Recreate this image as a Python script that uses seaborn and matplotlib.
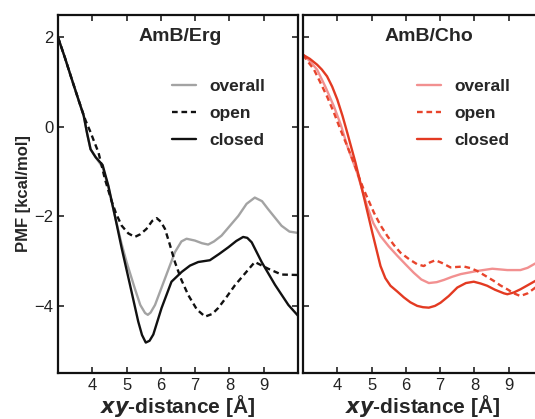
import numpy as np
import pandas as pd
import matplotlib
matplotlib.use("Agg")
import matplotlib.pyplot as plt
import seaborn as sns

# --- PMF curves (x in Angstrom, PMF in kcal/mol) ---

# AmB/Erg
erg_closed_x = [3.0, 3.2, 3.4, 3.6, 3.75, 3.85, 3.95, 4.1, 4.3, 4.47, 4.66, 4.86, 5.10, 5.34,
                5.45, 5.56, 5.67, 5.78, 6.02, 6.31, 6.61, 6.85, 7.09, 7.43, 7.70, 7.97, 8.20,
                8.40, 8.52, 8.65, 8.94, 9.33, 9.72, 10.0]
erg_closed_y = [2.0, 1.55, 1.07, 0.6, 0.25, -0.15, -0.5, -0.68, -0.85, -1.32, -1.99, -2.72, -3.53, -4.35,
                -4.65, -4.82, -4.78, -4.64, -4.05, -3.46, -3.24, -3.1, -3.02, -2.98, -2.84, -2.69, -2.55,
                -2.46, -2.48, -2.58, -3.02, -3.53, -3.98, -4.22]

erg_open_x = [3.0, 3.2, 3.4, 3.6, 3.8, 3.95, 4.05, 4.18, 4.37, 4.56, 4.7, 4.86, 5.05, 5.24, 5.4,
              5.58, 5.75, 5.88, 6.0, 6.12, 6.25, 6.41, 6.6, 6.8, 7.05, 7.29, 7.5, 7.67, 7.9,
              8.16, 8.45, 8.74, 8.95, 9.13, 9.52, 10.0]
erg_open_y = [2.0, 1.55, 1.07, 0.6, 0.15, -0.12, -0.32, -0.57, -1.17, -1.65, -1.95, -2.21, -2.38, -2.46, -2.4,
              -2.28, -2.1, -2.04, -2.12, -2.28, -2.6, -3.02, -3.42, -3.76, -4.08, -4.24, -4.18, -4.05, -3.82,
              -3.54, -3.28, -3.02, -3.1, -3.17, -3.30, -3.31]

erg_overall_x = [3.0, 3.2, 3.4, 3.6, 3.75, 3.85, 3.95, 4.1, 4.3, 4.47, 4.66, 4.85, 5.0, 5.24, 5.4,
                 5.54, 5.62, 5.7, 5.83, 6.12, 6.41, 6.6, 6.75, 6.99, 7.2, 7.38, 7.55, 7.77, 8.26,
                 8.5, 8.74, 8.95, 9.13, 9.52, 9.75, 10.0]
erg_overall_y = [2.0, 1.55, 1.07, 0.6, 0.25, -0.15, -0.5, -0.68, -0.9, -1.35, -1.99, -2.6, -3.02, -3.61, -3.98,
                 -4.16, -4.2, -4.15, -3.98, -3.39, -2.80, -2.56, -2.50, -2.54, -2.6, -2.63, -2.56, -2.43, -1.99,
                 -1.72, -1.58, -1.66, -1.84, -2.21, -2.34, -2.37]

# AmB/Cho
cho_closed_x = [3.0, 3.2, 3.41, 3.55, 3.70, 3.85, 4.0, 4.15, 4.29, 4.53, 4.77, 5.02, 5.26, 5.4, 5.55,
                5.75, 5.94, 6.13, 6.33, 6.5, 6.67, 6.85, 7.01, 7.25, 7.50, 7.75, 7.98, 8.18, 8.37,
                8.6, 8.86, 8.96, 9.15, 9.34, 9.55, 9.78, 10.0]
cho_closed_y = [1.61, 1.52, 1.39, 1.28, 1.13, 0.9, 0.61, 0.25, -0.13, -0.80, -1.55, -2.36, -3.11, -3.38, -3.55,
                -3.68, -3.81, -3.92, -4.0, -4.03, -4.04, -4.0, -3.93, -3.78, -3.59, -3.49, -3.46, -3.5, -3.55,
                -3.64, -3.72, -3.74, -3.7, -3.63, -3.54, -3.44, -3.36]

cho_open_x = [3.0, 3.15, 3.32, 3.50, 3.70, 3.9, 4.09, 4.3, 4.48, 4.62, 4.77, 5.07, 5.26, 5.46, 5.65,
              5.84, 6.1, 6.33, 6.52, 6.7, 6.86, 7.05, 7.30, 7.50, 7.69, 7.9, 8.08, 8.3, 8.56,
              8.75, 8.96, 9.15, 9.34, 9.55, 9.78, 10.0]
cho_open_y = [1.61, 1.45, 1.28, 1.0, 0.68, 0.32, -0.06, -0.45, -0.80, -1.1, -1.40, -1.92, -2.2, -2.44, -2.64,
              -2.81, -2.96, -3.07, -3.11, -3.03, -2.98, -3.04, -3.14, -3.13, -3.12, -3.16, -3.22, -3.32, -3.44,
              -3.54, -3.63, -3.72, -3.78, -3.72, -3.59, -3.45]

cho_overall_x = [3.0, 3.2, 3.41, 3.65, 3.90, 4.1, 4.3, 4.58, 4.87, 5.05, 5.26, 5.5, 5.75, 6.0, 6.23,
                 6.45, 6.67, 6.9, 7.11, 7.35, 7.60, 8.08, 8.52, 8.96, 9.34, 9.55, 9.78, 10.0]
cho_overall_y = [1.61, 1.47, 1.28, 0.9, 0.46, 0.05, -0.45, -1.03, -1.77, -2.15, -2.44, -2.67, -2.88, -3.08, -3.26,
                 -3.41, -3.49, -3.47, -3.42, -3.35, -3.29, -3.22, -3.17, -3.20, -3.20, -3.15, -3.05, -2.95]

x_ticks = [4, 5, 6, 7, 8, 9]
y_ticks = [-4, -2, 0, 2]

sns.set_style("ticks")
plt.rcParams['font.family'] = ['Liberation Sans', 'DejaVu Sans']
plt.rcParams['xtick.direction'] = 'in'
plt.rcParams['ytick.direction'] = 'in'

fig = plt.figure(figsize=(5.35, 4.19), dpi=100)
ax1 = fig.add_axes([0.1084, 0.1098, 0.4486, 0.8544])
ax2 = fig.add_axes([0.5664, 0.1098, 0.4486, 0.8544])

dash = (0, (2.4, 1.6))
lw = 1.7

# left panel
sns.lineplot(x=erg_overall_x, y=erg_overall_y, ax=ax1, color='#a3a3a3', lw=lw, label='overall')
sns.lineplot(x=erg_open_x, y=erg_open_y, ax=ax1, color='#111111', lw=lw, linestyle=dash, label='open')
sns.lineplot(x=erg_closed_x, y=erg_closed_y, ax=ax1, color='#111111', lw=lw, label='closed')

# right panel
sns.lineplot(x=cho_overall_x, y=cho_overall_y, ax=ax2, color='#f29090', lw=lw, label='overall')
sns.lineplot(x=cho_open_x, y=cho_open_y, ax=ax2, color='#e8442c', lw=lw, linestyle=dash, label='open')
sns.lineplot(x=cho_closed_x, y=cho_closed_y, ax=ax2, color='#e33a22', lw=lw, label='closed')

for ax, name, tx in [(ax1, 'AmB/Erg', 0.508), (ax2, 'AmB/Cho', 0.523)]:
    ax.set_xlim(3, 10)
    ax.set_ylim(-5.5, 2.5)
    ax.set_xticks(x_ticks)
    ax.set_yticks(y_ticks)
    ax.set_yticklabels(['\u22124', '\u22122', '0', '2'])
    ax.tick_params(top=True, right=True, length=4, width=1.2, labelsize=12, colors='#222222')
    for sp in ax.spines.values():
        sp.set_linewidth(1.6)
        sp.set_color('#111111')
    ax.text(tx, 0.94, name, transform=ax.transAxes, ha='center', va='center',
            fontsize=14, fontweight='bold')
    ax.legend(loc='upper left', bbox_to_anchor=(0.475, 0.822), frameon=False,
              handlelength=1.4, handletextpad=0.75, labelspacing=0.7, borderpad=0,
              borderaxespad=0, prop={'weight': 'bold', 'size': 12.5})
    ax.set_xlabel(r'$\bfit{xy}$' + '-distance [\u00c5]', fontsize=15, fontweight='bold', labelpad=0)

ax1.set_ylabel('PMF [kcal/mol]', fontsize=12, fontweight='bold', labelpad=2)
ax2.set_ylabel('')
ax2.set_yticklabels([])

fig.savefig('out.png', dpi=100)
